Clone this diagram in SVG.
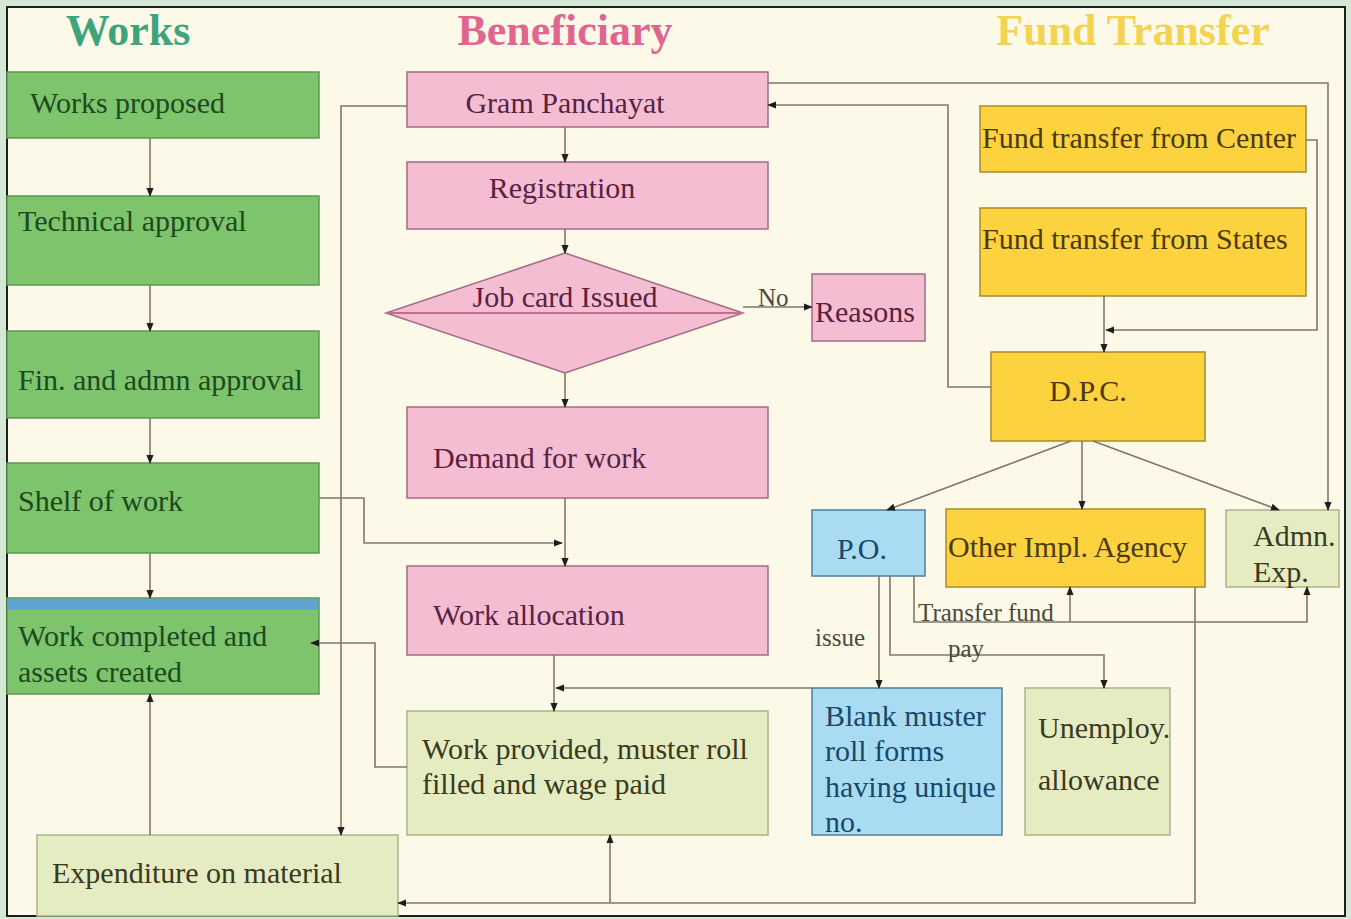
<svg xmlns="http://www.w3.org/2000/svg" width="1351" height="919" viewBox="0 0 1351 919">
<defs>
<marker id="ah" viewBox="0 0 10 10" refX="9" refY="5" markerWidth="9" markerHeight="9" markerUnits="userSpaceOnUse" orient="auto">
<path d="M0,1 L10,5 L0,9 z" fill="#1e1e1e"/>
</marker>
<style>
text{font-family:"Liberation Serif","Times New Roman",serif;}
.t{font-size:30px;}
.title{font-size:44px;font-weight:bold;}
.g rect{fill:#7dc46d;stroke:#5c9852;stroke-width:1.5;}
.g text{fill:#1d4a1d;}
.p rect,.p polygon{fill:#f4bdd2;stroke:#a06c84;stroke-width:1.5;}
.p text{fill:#5a2242;}
.y rect{fill:#fcd23e;stroke:#a88a2c;stroke-width:1.5;}
.y text{fill:#4a3a0c;}
.b rect{fill:#a9dcf2;stroke:#4e7f9c;stroke-width:1.5;}
.b text{fill:#1a4868;}
.o rect{fill:#e6ecc2;stroke:#aab48a;stroke-width:1.5;}
.o text{fill:#3a3a1e;}
.c path{fill:none;stroke:#7d786a;stroke-width:1.6;}
.c .a{marker-end:url(#ah);}
.lbl{font-size:25px;fill:#4a4a3a;}
</style>
</defs>
<rect x="0" y="0" width="1351" height="919" fill="#d5e8d6"/>
<rect x="7" y="7" width="1338" height="909" fill="#fdf9e9" stroke="#1e1e1e" stroke-width="2"/>

<g id="titles">
<text class="title" x="128" y="45" text-anchor="middle" fill="#3da47c">Works</text>
<text class="title" x="565" y="45" text-anchor="middle" fill="#e06690">Beneficiary</text>
<text class="title" x="1133" y="45" text-anchor="middle" fill="#f2d452">Fund Transfer</text>
</g>

<g id="works-proposed" class="g"><rect x="7" y="72" width="312" height="66"/><text class="t" x="30" y="113">Works proposed</text></g>
<g id="technical-approval" class="g"><rect x="7" y="196" width="312" height="89"/><text class="t" x="18" y="231">Technical approval</text></g>
<g id="fin-admn-approval" class="g"><rect x="7" y="331" width="312" height="87"/><text class="t" x="18" y="390">Fin. and admn approval</text></g>
<g id="shelf-of-work" class="g"><rect x="7" y="463" width="312" height="90"/><text class="t" x="18" y="511">Shelf of work</text></g>
<g id="work-completed" class="g"><rect x="7" y="598" width="312" height="96"/><rect x="7.75" y="598.75" width="310.5" height="11" style="fill:#5fa3d3;stroke:none"/><text class="t" x="18" y="646">Work completed and</text><text class="t" x="18" y="682">assets created</text></g>

<g id="gram-panchayat" class="p"><rect x="407" y="72" width="361" height="55"/><text class="t" x="565" y="113" text-anchor="middle">Gram Panchayat</text></g>
<g id="registration" class="p"><rect x="407" y="162" width="361" height="67"/><text class="t" x="562" y="198" text-anchor="middle">Registration</text></g>
<g id="job-card" class="p"><polygon points="565,253 743,313 565,373 386,313"/><path d="M386,313 H743" stroke="#c0708e" stroke-width="2"/><text class="t" x="565" y="307" text-anchor="middle">Job card Issued</text></g>
<g id="reasons" class="p"><rect x="812" y="274" width="113" height="67"/><text class="t" x="815" y="322">Reasons</text></g>
<g id="demand-for-work" class="p"><rect x="407" y="407" width="361" height="91"/><text class="t" x="433" y="468">Demand for work</text></g>
<g id="work-allocation" class="p"><rect x="407" y="566" width="361" height="89"/><text class="t" x="433" y="625">Work allocation</text></g>
<g id="work-provided" class="o"><rect x="407" y="711" width="361" height="124"/><text class="t" x="422" y="759">Work provided, muster roll</text><text class="t" x="422" y="794">filled and wage paid</text></g>
<g id="expenditure" class="o"><rect x="37" y="835" width="361" height="81"/><text class="t" x="52" y="883">Expenditure on material</text></g>

<g id="fund-center" class="y"><rect x="980" y="106" width="326" height="66"/><text class="t" x="982" y="148">Fund transfer from Center</text></g>
<g id="fund-states" class="y"><rect x="980" y="208" width="326" height="88"/><text class="t" x="982" y="249">Fund transfer from States</text></g>
<g id="dpc" class="y"><rect x="991" y="352" width="214" height="89"/><text class="t" x="1088" y="401" text-anchor="middle">D.P.C.</text></g>
<g id="other-impl" class="y"><rect x="946" y="509" width="259" height="78"/><text class="t" x="948" y="557">Other Impl. Agency</text></g>
<g id="adm-exp" class="o"><rect x="1226" y="510" width="113" height="77"/><text class="t" x="1253" y="546">Admn.</text><text class="t" x="1253" y="582">Exp.</text></g>
<g id="po" class="b"><rect x="812" y="510" width="113" height="66"/><text class="t" x="862" y="559" text-anchor="middle">P.O.</text></g>
<g id="blank-muster" class="b"><rect x="812" y="688" width="190" height="147"/><text class="t" x="825" y="726">Blank muster</text><text class="t" x="825" y="761">roll forms</text><text class="t" x="825" y="797">having unique</text><text class="t" x="825" y="832">no.</text></g>
<g id="unemploy" class="o"><rect x="1025" y="688" width="145" height="147"/><text class="t" x="1038" y="738">Unemploy.</text><text class="t" x="1038" y="790">allowance</text></g>

<g id="connectors" class="c">
<path class="a" d="M150,138 V196"/>
<path class="a" d="M150,285 V331"/>
<path class="a" d="M150,418 V463"/>
<path class="a" d="M150,553 V598"/>
<path class="a" d="M150,835 V694"/>
<path class="a" d="M407,106 H341 V835"/>
<path class="a" d="M319,498 H364 V543 H562"/>
<path class="a" d="M565,127 V162"/>
<path class="a" d="M565,229 V253"/>
<path class="a" d="M565,373 V407"/>
<path class="a" d="M565,498 V566"/>
<path class="a" d="M554,655 V711"/>
<path class="a" d="M812,688 H556"/>
<path class="a" d="M743,307 H812"/>
<path class="a" d="M407,767 H375 V643 H311"/>
<path class="a" d="M768,83 H1328 V510"/>
<path class="a" d="M991,387 H948 V105 H768"/>
<path class="a" d="M1104,296 V352"/>
<path class="a" d="M1306,140 H1317 V330 H1106"/>
<path class="a" d="M1071,441 L887,510"/>
<path class="a" d="M1082,441 V509"/>
<path class="a" d="M1093,441 L1279,510"/>
<path class="a" d="M879,576 V688"/>
<path class="a" d="M890,576 V655 H1104 V688"/>
<path class="a" d="M914,576 V622 H1307 V587"/>
<path class="a" d="M1070,622 V587"/>
<path class="a" d="M1195,587 V903 H398"/>
<path class="a" d="M610,903 V835"/>
</g>

<g id="labels">
<text class="lbl" x="758" y="306">No</text>
<text class="lbl" x="815" y="646">issue</text>
<text class="lbl" x="918" y="621">Transfer fund</text>
<text class="lbl" x="948" y="657">pay</text>
</g>
</svg>
